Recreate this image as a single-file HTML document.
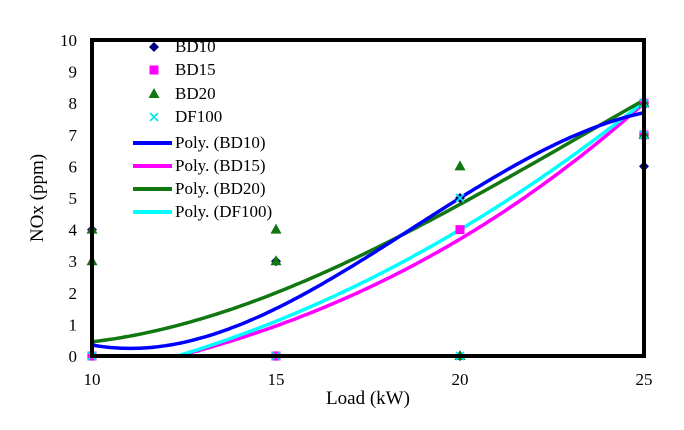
<!DOCTYPE html>
<html><head><meta charset="utf-8"><style>
body{margin:0;background:#fff;}
svg text{font-family:"Liberation Serif",serif;fill:#000;}
</style></head><body>
<svg id="c" width="684" height="425"></svg>
<script>
const xTicks=[10,15,20,25];
const yTicks=[0,1,2,3,4,5,6,7,8,9,10];
const bd10X=[10,10,15,15,20,20,25,25,25];
const bd10Y=[4,0,3,0,5,0,8,7,6];
const bd15X=[10,15,20,25,25];
const bd15Y=[0,0,4,7,8];
const bd20X=[10,10,15,15,20,20,25,25];
const bd20Y=[4,3,4,3,6,0,8,7];
const df100X=[10,15,20,20,25,25];
const df100Y=[0,0,5,0,8,7];
const fitX=[10,15,20,25];
const fitBD10=[0.35,1.5,5.0,7.7];
const fitBD15=[-0.6,0.95,3.7,8.0];
const fitBD20=[0.45,2.0,4.8,8.1];
const fitDF100=[-0.7,1.1,4.0,8.05];

const NS="http://www.w3.org/2000/svg";
const svg=document.getElementById('c');
const L=92,R=644,T=40,B=356;
const sx=v=>L+(v-10)/15*(R-L);
const sy=v=>B-v/10*(B-T);
function mk(tag,at){const e=document.createElementNS(NS,tag);for(const k in at)e.setAttribute(k,at[k]);return e;}
const defs=mk('defs',{});const cp=mk('clipPath',{id:'clip'});cp.appendChild(mk('rect',{x:L,y:T,width:R-L,height:B-T}));defs.appendChild(cp);svg.appendChild(defs);

yTicks.forEach(v=>{const t=mk('text',{x:77,y:sy(v)+6,'font-size':17,'text-anchor':'end'});t.textContent=v;

svg.appendChild(t);});
xTicks.forEach(v=>{const t=mk('text',{x:sx(v),y:385,'font-size':17,'text-anchor':'middle'});t.textContent=v;

svg.appendChild(t);});
const yt=mk('text',{x:0,y:0,'font-size':19,'text-anchor':'middle',transform:'translate(43,198) rotate(-90)'});yt.textContent='NOx (ppm)';

svg.appendChild(yt);
const xt=mk('text',{x:368,y:404,'font-size':19,'text-anchor':'middle'});xt.textContent='Load (kW)';

svg.appendChild(xt);

function lag(xs,ys,x){let s=0;for(let i=0;i<xs.length;i++){let p=ys[i];for(let j=0;j<xs.length;j++)if(j!==i)p*=(x-xs[j])/(xs[i]-xs[j]);s+=p;}return s;}
function curve(ys,color,name){let d='';for(let x=10;x<=25.001;x+=0.1){d+=(d?'L':'M')+sx(x).toFixed(1)+' '+sy(lag(fitX,ys,x)).toFixed(1);}
const p=mk('path',{d:d,fill:'none',stroke:color,'stroke-width':3.5,'clip-path':'url(#clip)'});

svg.appendChild(p);}
curve(fitBD15,'#ff00ff','poly-bd15-curve');
curve(fitDF100,'#00ffff','poly-df100-curve');
curve(fitBD20,'#117711','poly-bd20-curve');
curve(fitBD10,'#0000ff','poly-bd10-curve');

function marker(type,cx,cy){let e;
if(type==='d')e=mk('path',{d:`M${cx} ${cy-5}L${cx+5} ${cy}L${cx} ${cy+5}L${cx-5} ${cy}Z`,fill:'#000080'});
else if(type==='s')e=mk('rect',{x:cx-4.5,y:cy-4.5,width:9,height:9,fill:'#ff00ff'});
else if(type==='t')e=mk('path',{d:`M${cx} ${cy-6}L${cx+5.5} ${cy+4}L${cx-5.5} ${cy+4}Z`,fill:'#117711'});
else e=mk('path',{d:`M${cx-4} ${cy-4}L${cx+4} ${cy+4}M${cx+4} ${cy-4}L${cx-4} ${cy+4}`,stroke:'#00e5e5','stroke-width':1.6});
return e;}
function pts(xs,ys,type,name){xs.forEach((x,i)=>{const e=marker(type,sx(x),sy(ys[i]));

svg.appendChild(e);});}
pts(bd10X,bd10Y,'d','bd10-point');
pts(bd15X,bd15Y,'s','bd15-point');
pts(bd20X,bd20Y,'t','bd20-point');
pts(df100X,df100Y,'x','df100-point');

const frame=mk('rect',{x:L,y:T,width:R-L,height:B-T,fill:'none',stroke:'#000','stroke-width':4});

svg.appendChild(frame);

const leg=[['d','BD10',52],['s','BD15',75],['t','BD20',99],['x','DF100',122]];
leg.forEach(l=>{const m=marker(l[0],154,l[2]-5);

svg.appendChild(m);
const t=mk('text',{x:175,y:l[2],'font-size':17});t.textContent=l[1];

svg.appendChild(t);});
const legL=[['#0000ff','Poly. (BD10)',148],['#ff00ff','Poly. (BD15)',171],['#117711','Poly. (BD20)',194],['#00ffff','Poly. (DF100)',217]];
legL.forEach(l=>{const ln=mk('line',{x1:133,x2:172,y1:l[2]-5,y2:l[2]-5,stroke:l[0],'stroke-width':4});

svg.appendChild(ln);
const t=mk('text',{x:175,y:l[2],'font-size':17});t.textContent=l[1];

svg.appendChild(t);});
</script>
</body></html>
